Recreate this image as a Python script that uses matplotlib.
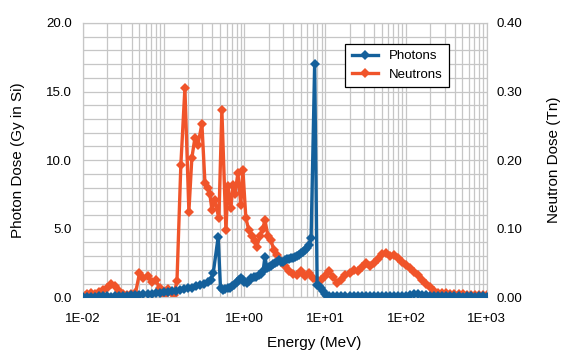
import matplotlib.pyplot as plt
from matplotlib.ticker import FixedLocator, LogLocator, NullFormatter, FuncFormatter

plt.rcParams['font.family'] = ['Liberation Sans', 'DejaVu Sans']

photon_energy_mev = [
    0.0100, 0.0112, 0.0126, 0.0141, 0.0158, 0.0178, 0.0200, 0.0224, 0.0251, 0.0282,
    0.0316, 0.0355, 0.0398, 0.0447, 0.0501, 0.0562, 0.0631, 0.0708, 0.0794, 0.0891,
    0.100, 0.112, 0.126, 0.141, 0.158, 0.178, 0.200, 0.224, 0.251, 0.282,
    0.316, 0.355, 0.380, 0.410, 0.472, 0.505, 0.540, 0.580, 0.620, 0.660,
    0.700, 0.750, 0.800, 0.850, 0.900, 0.950, 1.00, 1.07, 1.13, 1.21,
    1.30, 1.40, 1.50, 1.60, 1.70, 1.79, 1.90, 2.00, 2.12, 2.24,
    2.37, 2.51, 2.66, 2.82, 2.99, 3.16, 3.35, 3.55, 3.76, 3.98,
    4.22, 4.47, 4.73, 5.01, 5.31, 5.62, 5.96, 6.31, 6.68, 7.40,
    7.94, 8.41, 8.91, 9.44, 10.0, 10.6, 11.2, 12.6, 14.1, 15.8,
    17.8, 20.0, 22.4, 25.1, 28.2, 31.6, 35.5, 39.8, 44.7, 50.1,
    56.2, 63.1, 70.8, 79.4, 89.1, 100, 112, 126, 141, 158,
    178, 200, 224, 251, 282, 316, 355, 398, 447, 501,
    562, 631, 708, 794, 891, 1000,
]
photon_dose_gy = [
    0.05, 0.05, 0.06, 0.05, 0.07, 0.08, 0.07, 0.06, 0.08, 0.10,
    0.11, 0.12, 0.15, 0.17, 0.20, 0.22, 0.25, 0.27, 0.30, 0.32,
    0.36, 0.40, 0.45, 0.50, 0.55, 0.60, 0.66, 0.72, 0.80, 0.90,
    1.00, 1.10, 1.25, 1.75, 4.40, 0.65, 0.55, 0.60, 0.65, 0.72,
    0.80, 0.92, 1.10, 1.30, 1.40, 1.25, 1.15, 1.05, 1.20, 1.40,
    1.48, 1.52, 1.60, 1.70, 1.90, 2.95, 2.15, 2.20, 2.30, 2.45,
    2.50, 2.60, 2.72, 2.60, 2.55, 2.70, 2.78, 2.80, 2.85, 2.90,
    2.95, 3.05, 3.12, 3.20, 3.30, 3.45, 3.60, 3.80, 4.30, 17.0,
    0.90, 0.80, 0.70, 0.45, 0.22, 0.12, 0.08, 0.08, 0.07, 0.08,
    0.08, 0.09, 0.08, 0.10, 0.09, 0.10, 0.12, 0.10, 0.09, 0.08,
    0.10, 0.09, 0.12, 0.10, 0.08, 0.10, 0.14, 0.22, 0.26, 0.20,
    0.14, 0.10, 0.08, 0.09, 0.07, 0.08, 0.07, 0.08, 0.07, 0.06,
    0.07, 0.08, 0.06, 0.07, 0.07, 0.06,
]

neutron_energy_mev = [
    0.0100, 0.0112, 0.0126, 0.0141, 0.0158, 0.0178, 0.0200, 0.0224, 0.0251, 0.0282,
    0.0316, 0.0355, 0.0398, 0.0447, 0.0501, 0.0562, 0.0631, 0.0708, 0.0794, 0.0891,
    0.100, 0.112, 0.126, 0.133, 0.146, 0.163, 0.183, 0.205, 0.223, 0.243,
    0.265, 0.297, 0.324, 0.352, 0.373, 0.395, 0.430, 0.482, 0.525, 0.589,
    0.623, 0.679, 0.719, 0.761, 0.829, 0.902, 0.955, 1.04, 1.13, 1.24,
    1.35, 1.42, 1.55, 1.69, 1.79, 1.95, 2.12, 2.31, 2.51, 2.82,
    3.16, 3.55, 3.98, 4.47, 5.01, 5.62, 6.31, 7.08, 7.94, 8.91,
    10.0, 11.2, 12.6, 14.1, 15.8, 17.8, 20.0, 22.4, 25.1, 28.2,
    31.6, 35.5, 39.8, 44.7, 50.1, 56.2, 63.1, 70.8, 79.4, 89.1,
    100, 112, 126, 141, 158, 178, 200, 224, 251, 282,
    316, 355, 398, 447, 501, 562, 631, 708, 794, 891,
    1000,
]
neutron_dose_tn = [
    0.004, 0.005, 0.006, 0.005, 0.008, 0.011, 0.014, 0.020, 0.016, 0.010,
    0.005, 0.003, 0.005, 0.006, 0.035, 0.028, 0.031, 0.022, 0.025, 0.014,
    0.001, 0.012, 0.006, 0.003, 0.024, 0.193, 0.305, 0.125, 0.203, 0.232,
    0.222, 0.253, 0.167, 0.160, 0.150, 0.128, 0.142, 0.115, 0.273, 0.098,
    0.162, 0.130, 0.164, 0.150, 0.181, 0.135, 0.186, 0.116, 0.098, 0.090,
    0.082, 0.074, 0.089, 0.100, 0.113, 0.090, 0.084, 0.069, 0.062, 0.053,
    0.046, 0.038, 0.034, 0.033, 0.038, 0.031, 0.036, 0.028, 0.026, 0.025,
    0.031, 0.038, 0.030, 0.021, 0.026, 0.032, 0.035, 0.040, 0.038, 0.045,
    0.050, 0.046, 0.050, 0.056, 0.063, 0.064, 0.061, 0.062, 0.057, 0.052,
    0.047, 0.043, 0.037, 0.032, 0.026, 0.020, 0.015, 0.010, 0.007, 0.006,
    0.006, 0.005, 0.005, 0.005, 0.005, 0.004, 0.004, 0.004, 0.004, 0.004,
    0.004,
]

x_ticks = [1e-2, 1e-1, 1e0, 1e1, 1e2, 1e3]
x_tick_labels = ['1E-02', '1E-01', '1E+00', '1E+01', '1E+02', '1E+03']
photon_ticks = [0, 5, 10, 15, 20]
neutron_ticks = [0.0, 0.1, 0.2, 0.3, 0.4]

PHOTON_COLOR = '#14609b'
NEUTRON_COLOR = '#f0542a'
GRID_COLOR = '#c6c6c6'

fig = plt.figure(figsize=(5.72, 3.64), dpi=100)
ax = fig.add_subplot(111)
ax2 = ax.twinx()
fig.subplots_adjust(left=0.145, right=0.851, bottom=0.183, top=0.937)

# twin axes sits underneath: it carries the grid and the neutron curve,
# the primary axes (transparent) carries photons on top
ax.set_zorder(ax2.get_zorder() + 1)
ax.patch.set_visible(False)
ax2.xaxis.set_visible(True)

ax2.plot(neutron_energy_mev, neutron_dose_tn, color=NEUTRON_COLOR, lw=2.4,
         marker='D', markersize=5, markeredgewidth=0, label='Neutrons', zorder=3)
ax.plot(photon_energy_mev, photon_dose_gy, color=PHOTON_COLOR, lw=2.4,
        marker='D', markersize=5, markeredgewidth=0, label='Photons', zorder=3)

for a in (ax, ax2):
    a.set_xscale('log')
    a.set_xlim(1e-2, 1e3)

ax.set_ylim(0, 20)
ax2.set_ylim(0, 0.4)

ax.xaxis.set_major_locator(FixedLocator(x_ticks))
ax.set_xticklabels(x_tick_labels)
ax.xaxis.set_minor_locator(LogLocator(base=10, subs=range(2, 10)))
ax.xaxis.set_minor_formatter(NullFormatter())

ax.set_yticks(photon_ticks)
ax.yaxis.set_major_formatter(FuncFormatter(lambda v, p: f'{v:.1f}'))
ax2.set_yticks(neutron_ticks)
ax2.yaxis.set_major_formatter(FuncFormatter(lambda v, p: f'{v:.2f}'))
ax2.set_yticks([v / 50 for v in range(21)], minor=True)

ax2.grid(True, which='both', axis='both', color=GRID_COLOR, lw=0.9)
ax2.set_axisbelow(True)

for a in (ax, ax2):
    for s in a.spines.values():
        s.set_color(GRID_COLOR)
    a.tick_params(which='both', length=0, labelsize=9.5)
ax.tick_params(axis='x', pad=11)
ax.tick_params(axis='y', pad=8)
ax2.tick_params(axis='y', pad=7)
ax2.tick_params(axis='x', labelbottom=False, labeltop=False)

ax.set_xlabel('Energy (MeV)', fontsize=11)
ax.xaxis.set_label_coords(0.572, -0.14)
ax.set_ylabel('Photon Dose (Gy in Si)', fontsize=11, labelpad=15)
ax2.set_ylabel('Neutron Dose (Tn)', fontsize=11, labelpad=18)

h1, l1 = ax.get_legend_handles_labels()
h2, l2 = ax2.get_legend_handles_labels()
leg = ax.legend(h1 + h2, l1 + l2, loc='upper left', bbox_to_anchor=(0.65, 0.925),
                fontsize=9.5, fancybox=False, framealpha=1, handlelength=2.0,
                borderpad=0.5, labelspacing=0.45, borderaxespad=0)
leg.get_frame().set_edgecolor('black')
leg.get_frame().set_linewidth(0.9)

fig.savefig('out.png', dpi=100)
